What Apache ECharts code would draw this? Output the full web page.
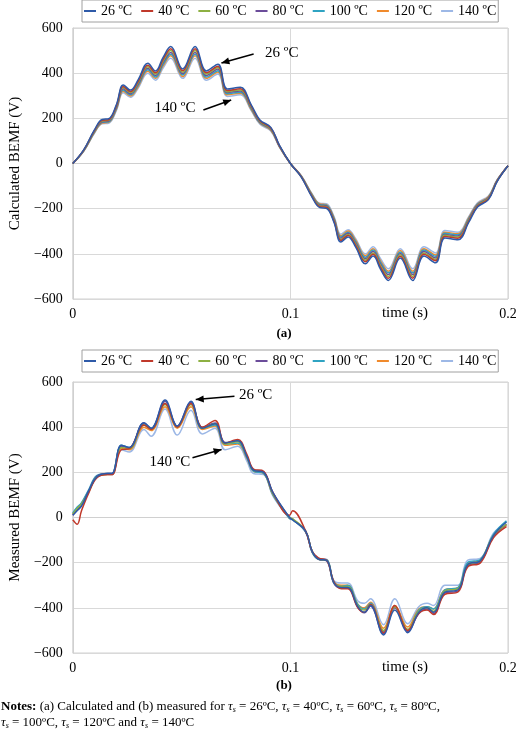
<!DOCTYPE html>
<html><head><meta charset="utf-8">
<script src="https://cdn.jsdelivr.net/npm/echarts@6/dist/echarts.min.js"></script>
<style>html,body{margin:0;padding:0;background:#fff}#c{width:520px;height:731px}</style>
</head><body><div id="c"></div>
<script>
const names = ['26 ºC','40 ºC','60 ºC','80 ºC','100 ºC','120 ºC','140 ºC'];
const colors = ['#2E5AA8','#C0392B','#8DB043','#6B4C9A','#2FA3C2','#F08A2C','#9DB8E6'];
const yTicks = [-600,-400,-200,0,200,400,600];
const xTicks = [0,0.1,0.2];

// (a) calculated
const tA = [0,.005,.010,.0135,.0165,.020,.0232,.0265,.030,.0345,.038,.0415,.045,.0505,.0562,.0614,.0667,.071,.077,.082,.086,.091,.095,.1,
 .105,.110,.1135,.1165,.120,.1232,.1265,.130,.1345,.138,.1415,.145,.1505,.1562,.1614,.1667,.171,.177,.182,.186,.191,.195,.2];
const calc26 = [0,60,150,195,198,260,348,325,370,444,410,470,518,419,518,410,440,330,338,260,193,160,80,0,
 -60,-150,-195,-198,-260,-348,-325,-370,-444,-410,-470,-518,-419,-518,-410,-440,-330,-338,-260,-193,-160,-80,-10];
const calc40 = [0,59,147,191,194,255,341,319,363,435,402,461,508,411,508,402,431,323,331,255,189,157,78,0,
 -59,-147,-191,-194,-255,-341,-319,-363,-435,-402,-461,-508,-411,-508,-402,-431,-323,-331,-255,-189,-157,-78,-10];
const calc60 = [0,58,145,188,191,251,336,314,357,428,396,454,500,404,500,396,425,318,326,251,186,154,77,0,
 -58,-145,-188,-191,-251,-336,-314,-357,-428,-396,-454,-500,-404,-500,-396,-425,-318,-326,-251,-186,-154,-77,-10];
const calc80 = [0,57,143,185,188,247,331,309,352,422,390,447,492,398,492,390,418,314,321,247,183,152,76,0,
 -57,-143,-185,-188,-247,-331,-309,-352,-422,-390,-447,-492,-398,-492,-390,-418,-314,-321,-247,-183,-152,-76,-10];
const calc100 = [0,56,140,182,185,243,325,304,346,415,383,439,484,392,484,383,411,309,316,243,180,150,75,0,
 -56,-140,-182,-185,-243,-325,-304,-346,-415,-383,-439,-484,-392,-484,-383,-411,-309,-316,-243,-180,-150,-75,-10];
const calc120 = [0,55,138,179,182,239,320,299,340,408,377,432,477,385,477,377,405,304,311,239,178,147,74,0,
 -55,-138,-179,-182,-239,-320,-299,-340,-408,-377,-432,-477,-385,-477,-377,-405,-304,-311,-239,-178,-147,-74,-10];
const calc140 = [0,54,135,176,178,234,313,293,333,400,369,423,466,377,466,369,396,297,304,234,174,144,72,0,
 -54,-135,-176,-178,-234,-313,-293,-333,-400,-369,-423,-466,-377,-466,-369,-396,-297,-304,-234,-174,-144,-72,-10];

// (b) measured
const tB = [0,.002,.004,.0074,.011,.016,.018,.0223,.026,.0327,.036,.0424,.048,.0543,.0595,.0654,.070,.0758,.080,.083,.0877,.092,.0996,.101,
 .107,.110,.113,.1167,.120,.1234,.1264,.131,.134,.1368,.1428,.148,.1539,.159,.1628,.1658,.171,.177,.1814,.1874,.1933,.1993];
const meas26 = [10,30,50,120,180,195,195,320,310,420,395,520,405,515,395,415,330,340,270,210,200,110,0,-10,-60,-150,-185,-190,-290,-310,-310,-395,-420,-390,-520,-410,-510,-420,-400,-420,-330,-320,-210,-190,-80,-20];
const meas40 = [-10,-30,30,110,175,190,190,300,305,410,390,505,400,505,400,430,330,345,280,215,205,110,10,30,-60,-150,-180,-190,-285,-315,-315,-400,-420,-385,-510,-390,-500,-425,-410,-430,-340,-330,-220,-200,-90,-40];
const meas60 = [15,40,60,115,180,192,192,310,305,410,390,500,400,500,395,415,325,335,270,210,200,105,0,-5,-60,-150,-185,-190,-290,-305,-305,-390,-410,-385,-500,-395,-495,-415,-400,-415,-325,-315,-210,-190,-80,-30];
const meas80 = [10,35,55,118,182,195,195,315,308,418,392,515,405,510,400,418,332,340,272,212,202,108,0,-8,-62,-152,-185,-192,-292,-312,-312,-398,-422,-392,-515,-400,-505,-425,-405,-425,-335,-325,-215,-195,-85,-30];
const meas100 = [20,45,65,125,185,195,195,320,310,415,395,505,405,505,395,410,325,330,265,205,195,100,-5,-10,-65,-155,-185,-188,-285,-305,-300,-385,-405,-380,-505,-395,-500,-410,-395,-405,-320,-310,-200,-185,-75,-15];
const meas120 = [15,40,60,120,180,190,190,305,300,400,385,490,395,490,390,405,320,325,262,205,195,100,-3,-8,-60,-150,-183,-188,-285,-300,-300,-385,-400,-375,-490,-390,-485,-405,-395,-405,-320,-312,-205,-188,-80,-35];
const meas140 = [20,45,65,120,178,190,190,300,290,390,360,480,365,475,370,395,300,315,250,195,190,95,-5,-10,-60,-150,-180,-185,-280,-290,-290,-370,-380,-360,-475,-360,-470,-395,-380,-390,-300,-300,-190,-180,-70,-20];

const calc = [calc26,calc40,calc60,calc80,calc100,calc120,calc140];
const meas = [meas26,meas40,meas60,meas80,meas100,meas120,meas140];
const FONT = 'Liberation Serif';

const chart = echarts.init(document.getElementById('c'));
function xAx(gi){return {gridIndex:gi,type:'value',min:0,max:0.2,interval:0.1,
  axisLine:{show:true,lineStyle:{color:'#d0d0d0'}},axisTick:{show:false},
  splitLine:{show:true,lineStyle:{color:'#d9d9d9'}},
  axisLabel:{color:'#000',fontFamily:FONT,fontSize:14,margin:8,formatter:v=>v===0?'0':String(+v.toFixed(1))}};}
function yAx(gi,name){return {gridIndex:gi,type:'value',min:-600,max:600,interval:200,
  name:name,nameLocation:'middle',nameGap:44,nameTextStyle:{color:'#000',fontFamily:FONT,fontSize:15},
  axisLine:{show:true,lineStyle:{color:'#d0d0d0'}},axisTick:{show:false},
  splitLine:{show:true,lineStyle:{color:'#d9d9d9'}},
  axisLabel:{color:'#000',fontFamily:FONT,fontSize:14,margin:10,formatter:v=>v<0?'−'+(-v):String(v)}};}
function mk(t,arrs,gi){return arrs.map((a,i)=>({name:names[i],type:'line',xAxisIndex:gi,yAxisIndex:gi,
  data:t.map((x,k)=>[x,a[k]]),showSymbol:false,smooth:0.4,lineStyle:{width:1.5,color:colors[i]},itemStyle:{color:colors[i]},z:10-i}));}
function lg(top){return {top:top,left:82,right:12,itemGap:9,itemWidth:12,itemHeight:2,icon:'rect',padding:[4,2,4,2],
  borderColor:'#a0a0a0',borderWidth:1,data:names,textStyle:{fontFamily:FONT,fontSize:14,color:'#000'}};}

chart.setOption({
  animation:false,
  legend:[lg(0),lg(350)],
  grid:[{left:63,right:12,top:28,height:271,show:true,borderColor:'#d0d0d0'},
        {left:63,right:12,top:382,height:271,show:true,borderColor:'#d0d0d0'}],
  xAxis:[xAx(0),xAx(1)],
  yAxis:[yAx(0,'Calculated BEMF (V)'),yAx(1,'Measured BEMF (V)')],
  series:[...mk(tA,calc,0),...mk(tB,meas,1)]
});

function P(gi,x,y){return chart.convertToPixel({gridIndex:gi},[x,y]);}
function arrow(gi,a,b){const p=P(gi,a[0],a[1]),q=P(gi,b[0],b[1]);
  return {type:'line',shape:{x1:p[0],y1:p[1],x2:q[0],y2:q[1]},style:{stroke:'#000',lineWidth:1.5},z:100};}
function head(gi,a,b){const p=P(gi,a[0],a[1]),q=P(gi,b[0],b[1]);const ang=Math.atan2(q[1]-p[1],q[0]-p[0]);
  const L=8,W=3.5;const bx=q[0]-L*Math.cos(ang),by=q[1]-L*Math.sin(ang);
  return {type:'polygon',shape:{points:[[q[0],q[1]],[bx+W*Math.sin(ang),by-W*Math.cos(ang)],[bx-W*Math.sin(ang),by+W*Math.cos(ang)]]},style:{fill:'#000'},z:100};}
function lbl(gi,x,y,s){const p=P(gi,x,y);return {type:'text',x:p[0],y:p[1],style:{text:s,fontFamily:FONT,fontSize:15,fill:'#000',align:'center',verticalAlign:'middle'},z:100};}

const ann = [
  arrow(0,[0.0831,485],[0.0683,445]),head(0,[0.0831,485],[0.0683,445]),lbl(0,0.096,487,'26 ºC'),
  arrow(0,[0.060,237],[0.0728,281]),head(0,[0.060,237],[0.0728,281]),lbl(0,0.047,246,'140 ºC'),
  arrow(1,[0.0743,537],[0.0565,522]),head(1,[0.0743,537],[0.0565,522]),lbl(1,0.084,541,'26 ºC'),
  arrow(1,[0.055,265],[0.0684,301]),head(1,[0.055,265],[0.0684,301]),lbl(1,0.0446,246,'140 ºC'),
  {type:'text',x:405,y:313,style:{text:'time (s)',fontFamily:FONT,fontSize:15,fill:'#000',align:'center',verticalAlign:'middle'}},
  {type:'text',x:405,y:667,style:{text:'time (s)',fontFamily:FONT,fontSize:15,fill:'#000',align:'center',verticalAlign:'middle'}},
  {type:'text',x:284,y:334,style:{text:'(a)',fontFamily:FONT,fontSize:13,fontWeight:'bold',fill:'#000',align:'center',verticalAlign:'middle'}},
  {type:'text',x:284,y:686,style:{text:'(b)',fontFamily:FONT,fontSize:13,fontWeight:'bold',fill:'#000',align:'center',verticalAlign:'middle'}},
  {type:'text',x:1,y:707,style:{text:'{b|Notes:} (a) Calculated and (b) measured for {t|τ}{s|s} = 26ºC, {t|τ}{s|s} = 40ºC, {t|τ}{s|s} = 60ºC, {t|τ}{s|s} = 80ºC,',
     fontFamily:FONT,fontSize:13,fill:'#000',verticalAlign:'middle',
     rich:{b:{fontWeight:'bold',fontFamily:FONT,fontSize:13},t:{fontStyle:'italic',fontFamily:FONT,fontSize:13},s:{fontStyle:'italic',fontFamily:FONT,fontSize:8,verticalAlign:'bottom',padding:[4,0,0,0]}}}},
  {type:'text',x:1,y:723,style:{text:'{t|τ}{s|s} = 100ºC, {t|τ}{s|s} = 120ºC and {t|τ}{s|s} = 140ºC',
     fontFamily:FONT,fontSize:13,fill:'#000',verticalAlign:'middle',
     rich:{t:{fontStyle:'italic',fontFamily:FONT,fontSize:13},s:{fontStyle:'italic',fontFamily:FONT,fontSize:8,verticalAlign:'bottom',padding:[4,0,0,0]}}}}
];
chart.setOption({graphic:{elements:ann}});
</script></body></html>
